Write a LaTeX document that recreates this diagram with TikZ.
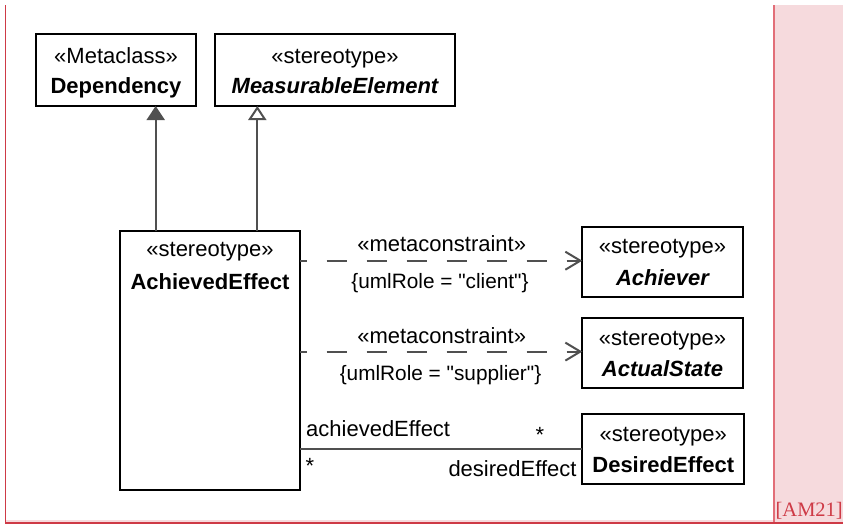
\documentclass[tikz,border=0pt]{standalone}
\usepackage{fontspec}
\setmainfont{Liberation Sans}[Ligatures=TeXOff]
\newfontfamily\refserif{Liberation Serif}
\usetikzlibrary{arrows.meta}
\definecolor{pinkbg}{RGB}{246,218,221}
\definecolor{redline}{RGB}{206,58,70}
\definecolor{lightred}{RGB}{226,110,120}
\definecolor{conn}{RGB}{80,80,80}
\tikzset{
  umlbox/.style={draw=black, line width=2pt, fill=white, inner sep=0pt, outer sep=0pt, anchor=north west},
  txt/.style={inner sep=0pt, anchor=base, font=\fontsize{22}{26}\selectfont},
  smalltxt/.style={inner sep=0pt, anchor=base, font=\fontsize{20.8}{25}\selectfont},
  connline/.style={draw=conn, line width=2pt},
  genfilled/.style={connline, -{Triangle[length=14pt,width=18pt,fill=conn]}},
  genopen/.style={connline, -{Triangle[open,length=14pt,width=18pt,fill=white]}},
  dashdep/.style={connline, dash pattern=on 20pt off 20pt, dash phase=13.3pt,
    -{Straight Barb[length=15pt,width=18pt,line width=2pt]}},
}
\begin{document}
\begin{tikzpicture}[x=1pt,y=-1pt]
\useasboundingbox (0,0) rectangle (843,525);
% frame
\fill[pinkbg] (774,5) rectangle (843,522);
\fill[pinkbg] (5,519.5) rectangle (843,522.3);
\draw[lightred, line width=1.5pt] (774,5) -- (774,522.3);
\draw[redline, line width=1.6pt] (5.3,5) -- (5.3,524.3);
\draw[redline, line width=2pt] (5,523.3) -- (843,523.3);
\node[anchor=base east, inner sep=0pt, text=redline, font=\refserif\fontsize{20.5}{24}\selectfont] (refl) at (843,516.5) {[AM21]};

% boxes
\node[umlbox, minimum width=160pt, minimum height=72pt] (dep) at (36,34) {};
\node[umlbox, minimum width=240pt, minimum height=72pt] (meas) at (215,34) {};
\node[umlbox, minimum width=180pt, minimum height=259.3pt] (ach) at (120,230.7) {};
\node[umlbox, minimum width=160.4pt, minimum height=70pt] (achr) at (582.3,226.7) {};
\node[umlbox, minimum width=160.4pt, minimum height=70pt] (act) at (582.3,318.3) {};
\node[umlbox, minimum width=162pt, minimum height=70pt] (des) at (582.3,414.3) {};

% box texts
\node[txt] (depS) at (116,63) {«Metaclass»};
\node[txt, font=\fontsize{22}{26}\selectfont\bfseries] (depN) at (116,93.3) {Dependency};
\node[txt] (measS) at (335,63) {«stereotype»};
\node[txt, font=\fontsize{22}{26}\selectfont\bfseries\itshape] (measN) at (335,93.3) {MeasurableElement};
\node[txt] (achS) at (210,256) {«stereotype»};
\node[txt, font=\fontsize{22}{26}\selectfont\bfseries] (achN) at (210,289) {AchievedEffect};
\node[txt] (achrS) at (662.5,253.3) {«stereotype»};
\node[txt, font=\fontsize{22}{26}\selectfont\bfseries\itshape] (achrN) at (662.5,285) {Achiever};
\node[txt] (actS) at (662.5,345) {«stereotype»};
\node[txt, font=\fontsize{22}{26}\selectfont\bfseries\itshape] (actN) at (662.5,376.7) {ActualState};
\node[txt] (desS) at (663.3,441) {«stereotype»};
\node[txt, font=\fontsize{22}{26}\selectfont\bfseries] (desN) at (663.3,472.7) {DesiredEffect};

% generalizations
\draw[genfilled] ([xshift=35.7pt]ach.north west) coordinate (g1) -- (g1 |- dep.south);
\draw[genopen] ([xshift=137.3pt]ach.north west) coordinate (g2) -- (g2 |- meas.south);

% dependencies
\draw[dashdep] ([yshift=1pt]achr.west -| ach.east) -- ([yshift=1pt]achr.west);
\draw[dashdep] ([yshift=1.7pt]act.west -| ach.east) -- ([yshift=1.7pt]act.west);
\node[txt] (m1) at (441.7,251.7) {«metaconstraint»};
\node[smalltxt] (c1) at (440,288.3) {\{umlRole = "client"\}};
\node[txt] (m2) at (441.7,343.3) {«metaconstraint»};
\node[smalltxt] (c2) at (440.5,380.5) {\{umlRole = "supplier"\}};

% association
\draw[connline] (des.west -| ach.east) -- (des.west);
\node[txt, anchor=base west] (r1) at (306,436.7) {achievedEffect};
\node[txt, anchor=base west] (s1) at (535.5,442) {*};
\node[txt, anchor=base west] (s2) at (305.5,473.7) {*};
\node[txt, anchor=base east] (r2) at (576.7,476) {desiredEffect};
\end{tikzpicture}
\end{document}
